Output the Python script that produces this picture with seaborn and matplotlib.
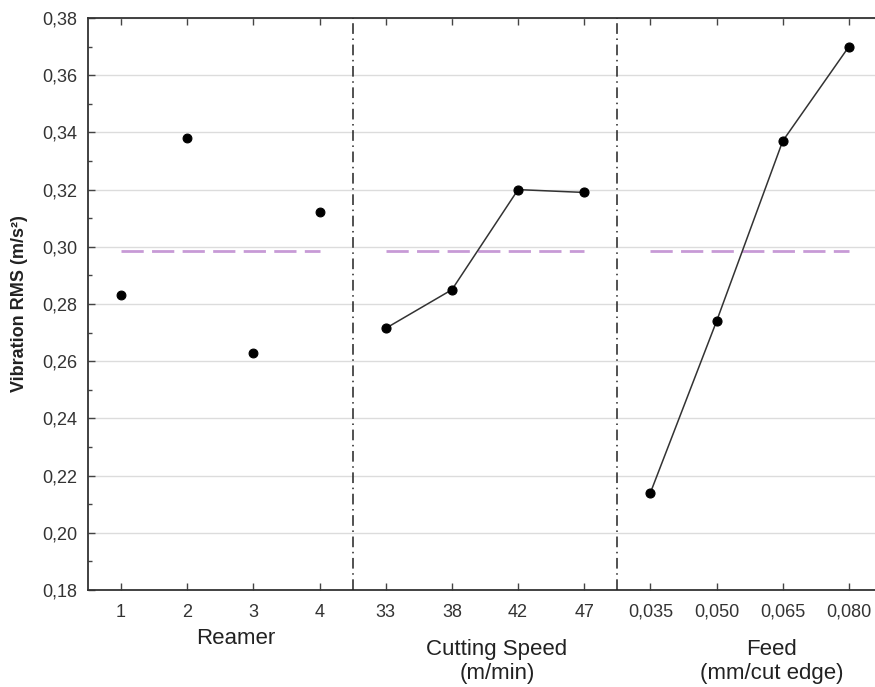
import matplotlib
matplotlib.use("Agg")
import matplotlib.pyplot as plt
import matplotlib.transforms as mtransforms
from matplotlib.ticker import MultipleLocator, FuncFormatter
import seaborn as sns
import pandas as pd

# ---- data ----
reamer_labels = ["1", "2", "3", "4"]
reamer_vals = [0.283, 0.338, 0.263, 0.312]
speed_labels = ["33", "38", "42", "47"]
speed_vals = [0.2715, 0.285, 0.320, 0.319]
feed_labels = ["0,035", "0,050", "0,065", "0,080"]
feed_vals = [0.214, 0.274, 0.337, 0.370]
grand_mean = 0.2987
group_titles = ["Reamer", "Cutting Speed\n(m/min)", "Feed\n(mm/cut edge)"]

sns.set_theme(style="white")
plt.rcParams["font.family"] = ["Liberation Sans", "DejaVu Sans"]

tick_labels = reamer_labels + speed_labels + feed_labels
n = len(reamer_labels)
df = pd.DataFrame({
    "pos": list(range(len(tick_labels))),
    "val": reamer_vals + speed_vals + feed_vals,
    "factor": ["Reamer"] * n + ["Speed"] * n + ["Feed"] * n,
})

fig = plt.figure(figsize=(8.75, 6.87), dpi=100)
ax = fig.add_axes([88 / 875, 97 / 687, 794 / 875, 572 / 687])

ax.set_ylim(0.18, 0.38)
ax.set_xlim(-0.5, len(tick_labels) - 0.5)
ax.yaxis.set_major_locator(MultipleLocator(0.02))
ax.yaxis.set_minor_locator(MultipleLocator(0.01))
ax.grid(axis="y", which="major", color="#dcdcdc", linewidth=1.0, zorder=0)
ax.set_axisbelow(True)

# mean dashed lines per group
for g in range(3):
    xs = [g * n, g * n + n - 1]
    sns.lineplot(x=xs, y=[grand_mean, grand_mean], ax=ax, color="#c79ad6",
                 linewidth=2.0, linestyle=(0, (8, 3)), zorder=2)

# group dividers
for g in range(1, 3):
    ax.axvline(g * n - 0.5, color="#222222", linewidth=1.1,
               linestyle=(0, (7, 3, 1, 3)), zorder=3)

# reamer: points only
sub = df[df.factor == "Reamer"]
sns.scatterplot(data=sub, x="pos", y="val", ax=ax, color="black", s=40,
                edgecolor="black", linewidth=0.8, zorder=5)
# speed & feed: connected
for f in ["Speed", "Feed"]:
    sub = df[df.factor == f]
    sns.lineplot(data=sub, x="pos", y="val", ax=ax, color="#333333",
                 linewidth=1.1, marker="o", markersize=6.5, markeredgewidth=0.8,
                 markerfacecolor="black", markeredgecolor="black", zorder=5)

ax.set_xticks(range(len(tick_labels)))
ax.set_xticklabels(tick_labels)
ax.yaxis.set_major_formatter(FuncFormatter(lambda v, p: f"{v:.2f}".replace(".", ",")))

for s in ["left", "bottom", "top"]:
    ax.spines[s].set_color("#333333")
    ax.spines[s].set_linewidth(1.3)
ax.spines["right"].set_visible(False)

ax.tick_params(axis="x", direction="in", length=5, width=1, color="#444444",
               top=True, bottom=True, labelsize=13, labelcolor="#333333", pad=10)
ax.tick_params(axis="y", which="major", direction="in", length=5, width=1,
               color="#444444", left=True, labelsize=13, labelcolor="#333333", pad=8)
ax.tick_params(axis="y", which="minor", direction="in", length=3, width=1,
               color="#444444", left=True)

ax.set_xlabel("")
ax.set_ylabel("Vibration RMS (m/s²)", fontsize=13, fontweight="bold",
              color="#222222", labelpad=10)

trans = mtransforms.blended_transform_factory(ax.transData, ax.transAxes)
label_x = [1.74, 5.68, 9.83]
for x, t in zip(label_x, group_titles):
    ax.text(x, -0.085 if "\n" not in t else -0.125, t, transform=trans,
            ha="center", va="center", fontsize=16, color="#222222",
            linespacing=1.15)

fig.savefig("out.png", dpi=100)
